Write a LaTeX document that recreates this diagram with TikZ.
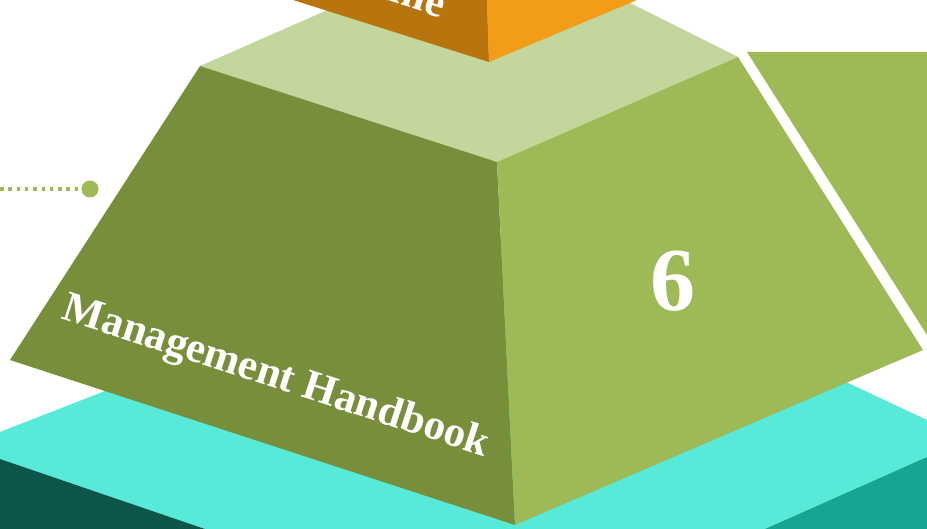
\documentclass[tikz,border=0pt]{standalone}
\usepackage{fontspec}
\setmainfont{Liberation Serif}
\definecolor{topface}{HTML}{C3D69B}
\definecolor{leftface}{HTML}{778F3B}
\definecolor{rightface}{HTML}{9DBA56}
\definecolor{orangeL}{HTML}{B8740D}
\definecolor{orangeR}{HTML}{F39C17}
\definecolor{cyanTop}{HTML}{57EAD8}
\definecolor{tealL}{HTML}{0C554B}
\definecolor{tealR}{HTML}{16A591}
\begin{document}
\begin{tikzpicture}[x=1pt, y=-1pt,
    face/.style={draw=none},
    label/.style={text=white, font=\bfseries\fontsize{43}{47}\selectfont, rotate=-18, inner sep=0pt},
    lead/.style={draw=rightface, line width=3.8pt, dash pattern=on 3.5pt off 4.8pt}]
  \useasboundingbox (0,0) rectangle (927,529);
  \clip (0,0) rectangle (927,529);
  % lower layer
  \fill[face, cyanTop] (0,432) -- (520,229) -- (927,420) -- (927,457) -- (765,529) -- (205,529) -- (0,459) -- cycle;
  \fill[face, tealL] (0,459) -- (205,529) -- (0,529) -- cycle;
  \fill[face, tealR] (927,457) -- (765,529) -- (927,529) -- cycle;
  % neighbour block
  \fill[face, rightface] (747,52) -- (927,52) -- (927,335) -- cycle;
  % green block
  \fill[face, topface] (200,66) -- (496,-64) -- (738,57) -- (497,162) -- cycle;
  \fill[face, leftface] (200,66) -- (497,162) -- (515,525) -- (10,360) -- cycle;
  \fill[face, rightface] (497,162) -- (738,57) -- (923,350) -- (515,525) -- cycle;
  % orange block
  \fill[face, orangeL] (293,0) -- (489,62) -- (487,0) -- cycle;
  \fill[face, orangeR] (487,0) -- (489,62) -- (637,0) -- cycle;
  % texts
  \node[label, anchor=base east] (top) at (441,18) {Time};
  \node[label] (mgmt) at (276,378) {Management Handbook};
  \node[text=white, font=\bfseries\fontsize{90}{96}\selectfont, inner sep=0pt] (num) at (673,281) {6};
  % leader
  \node[circle, fill=rightface, minimum size=17pt, inner sep=0pt] (dot) at (90,189) {};
  \coordinate (lstart) at (0,189);
  \draw[lead] (lstart) -- (dot.west);
\end{tikzpicture}
\end{document}
